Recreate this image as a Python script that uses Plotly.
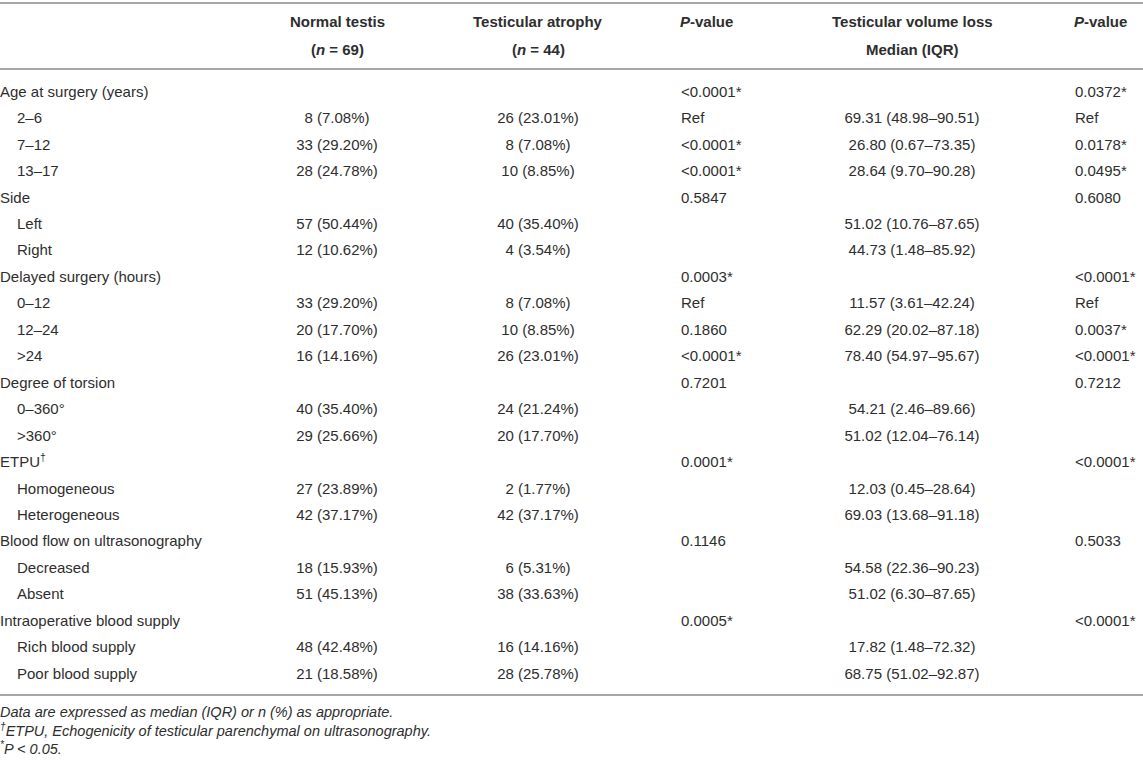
import plotly.graph_objects as go

# table body, one entry per row
row_labels = [
    "Age at surgery (years)", "2–6", "7–12", "13–17",
    "Side", "Left", "Right",
    "Delayed surgery (hours)", "0–12", "12–24", ">24",
    "Degree of torsion", "0–360°", ">360°",
    "ETPU<sup>†</sup>", "Homogeneous", "Heterogeneous",
    "Blood flow on ultrasonography", "Decreased", "Absent",
    "Intraoperative blood supply", "Rich blood supply", "Poor blood supply",
]
normal_testis = [
    "", "8 (7.08%)", "33 (29.20%)", "28 (24.78%)",
    "", "57 (50.44%)", "12 (10.62%)",
    "", "33 (29.20%)", "20 (17.70%)", "16 (14.16%)",
    "", "40 (35.40%)", "29 (25.66%)",
    "", "27 (23.89%)", "42 (37.17%)",
    "", "18 (15.93%)", "51 (45.13%)",
    "", "48 (42.48%)", "21 (18.58%)",
]
testicular_atrophy = [
    "", "26 (23.01%)", "8 (7.08%)", "10 (8.85%)",
    "", "40 (35.40%)", "4 (3.54%)",
    "", "8 (7.08%)", "10 (8.85%)", "26 (23.01%)",
    "", "24 (21.24%)", "20 (17.70%)",
    "", "2 (1.77%)", "42 (37.17%)",
    "", "6 (5.31%)", "38 (33.63%)",
    "", "16 (14.16%)", "28 (25.78%)",
]
p_atrophy = [
    "<0.0001*", "Ref", "<0.0001*", "<0.0001*",
    "0.5847", "", "",
    "0.0003*", "Ref", "0.1860", "<0.0001*",
    "0.7201", "", "",
    "0.0001*", "", "",
    "0.1146", "", "",
    "0.0005*", "", "",
]
volume_loss = [
    "", "69.31 (48.98–90.51)", "26.80 (0.67–73.35)", "28.64 (9.70–90.28)",
    "", "51.02 (10.76–87.65)", "44.73 (1.48–85.92)",
    "", "11.57 (3.61–42.24)", "62.29 (20.02–87.18)", "78.40 (54.97–95.67)",
    "", "54.21 (2.46–89.66)", "51.02 (12.04–76.14)",
    "", "12.03 (0.45–28.64)", "69.03 (13.68–91.18)",
    "", "54.58 (22.36–90.23)", "51.02 (6.30–87.65)",
    "", "17.82 (1.48–72.32)", "68.75 (51.02–92.87)",
]
p_volume = [
    "0.0372*", "Ref", "0.0178*", "0.0495*",
    "0.6080", "", "",
    "<0.0001*", "Ref", "0.0037*", "<0.0001*",
    "0.7212", "", "",
    "<0.0001*", "", "",
    "0.5033", "", "",
    "<0.0001*", "", "",
]

header_top = ["Normal testis", "Testicular atrophy", "<i>P</i>-value",
              "Testicular volume loss", "<i>P</i>-value"]
header_bottom = ["(<i>n</i> = 69)", "(<i>n</i> = 44)", "", "Median (IQR)", ""]

footnotes = [
    "Data are expressed as median (IQR) or n (%) as appropriate.",
    "<sup>†</sup>ETPU, Echogenicity of testicular parenchymal on ultrasonography.",
    "<sup>*</sup>P < 0.05.",
]

W, H = 1143, 760
FONT = "Liberation Sans, Arial, Helvetica, sans-serif"
TXT = "#2e2e2e"
RULE = "#a6a6a6"

# pixel layout
row_top = 93      # centre of first body row
row_step = 26.45
col_x = [337, 538, 681, 912, 1075]
col_anchor = ["center", "center", "left", "center", "left"]

# y axis in row units, mapped so that rows land on the right pixels
y_lo = -row_top / row_step
y_hi = (H - row_top) / row_step


def py(px):
    return 1 - px / H


fig = go.Figure()

label_x = [17 if n else 0 for n in normal_testis]
fig.add_trace(go.Scatter(x=label_x, y=list(range(len(row_labels))), text=row_labels,
                         mode="text", textposition="middle right",
                         textfont=dict(family=FONT, size=15, color=TXT),
                         hoverinfo="skip"))

columns = [normal_testis, testicular_atrophy, p_atrophy, volume_loss, p_volume]
for vals, cx, anchor in zip(columns, col_x, col_anchor):
    idx = [i for i, v in enumerate(vals) if v]
    pos = "middle center" if anchor == "center" else "middle right"
    fig.add_trace(go.Scatter(x=[cx] * len(idx), y=idx, text=[vals[i] for i in idx],
                             mode="text", textposition=pos,
                             textfont=dict(family=FONT, size=15, color=TXT),
                             hoverinfo="skip"))

ann = []
for top, bottom, cx, anchor in zip(header_top, header_bottom, col_x, col_anchor):
    for txt, ypx in ((top, 22), (bottom, 50)):
        if txt:
            ann.append(dict(x=cx, y=py(ypx), xref="x", yref="paper", text="<b>" + txt + "</b>",
                            showarrow=False, xanchor=anchor, yanchor="middle",
                            xshift=-3 if anchor == "left" else 0,
                            font=dict(family=FONT, size=15, color=TXT)))
for i, txt in enumerate(footnotes):
    ann.append(dict(x=0, y=py(712 + 18 * i), xref="x", yref="paper", text="<i>" + txt + "</i>",
                    showarrow=False, xanchor="left", yanchor="middle", xshift=-2,
                    font=dict(family=FONT, size=14.5, color=TXT)))

shapes = [dict(type="line", xref="x", yref="paper", x0=0, x1=W, y0=py(ypx), y1=py(ypx),
               line=dict(color=RULE, width=2)) for ypx in (3, 69, 695)]

fig.update_layout(
    width=W, height=H, margin=dict(l=0, r=0, t=0, b=0),
    paper_bgcolor="white", plot_bgcolor="white", showlegend=False,
    xaxis=dict(range=[0, W], visible=False, fixedrange=True),
    yaxis=dict(range=[y_hi, y_lo], visible=False, fixedrange=True),
    annotations=ann, shapes=shapes,
)

# drop the browser's default page margin so the figure sits at the window edge
fig.write_html("out.html", config={"displayModeBar": False},
               post_script="document.body.style.margin='0';")
